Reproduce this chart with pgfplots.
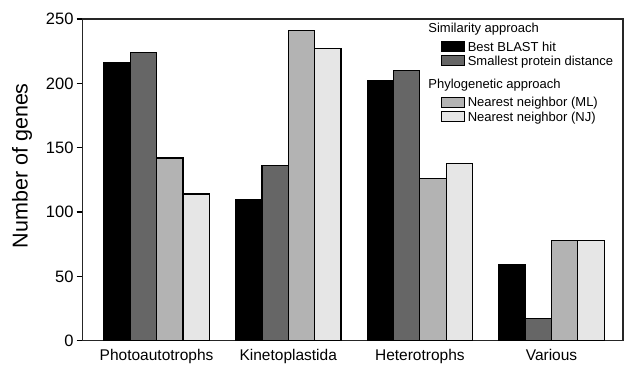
\documentclass[border=0pt]{standalone}
\usepackage{pgfplots}
\pgfplotsset{compat=1.18}
\usepackage{fontspec}
\setmainfont{Liberation Sans}
\definecolor{cA}{HTML}{000000}
\definecolor{cB}{HTML}{666666}
\definecolor{cC}{HTML}{B3B3B3}
\definecolor{cD}{HTML}{E6E6E6}
\begin{document}
\begin{tikzpicture}[x=1pt,y=1pt]
\useasboundingbox (0,0) rectangle (625,365);
\begin{axis}[
  at={(82.7pt,24.3pt)}, anchor=south west,
  scale only axis, width=540.3pt, height=321.7pt,
  ybar=0pt, bar width=0.2,
  xmin=-0.5615, xmax=3.543,
  ymin=0, ymax=250,
  ytick={0,50,100,150,200,250},
  xtick={0,1,2,3},
  xticklabels={Photoautotrophs,Kinetoplastida,Heterotrophs,Various},
  /pgf/number format/assume math mode=true,
  tick align=outside,
  ytick pos=left,
  xtick style={draw=none},
  major tick length=6pt,
  ytick style={line width=1.1pt, black},
  axis line style={line width=1.2pt, black!85},
  yticklabel style={font=\fontsize{16.5}{18}\selectfont, inner sep=3pt},
  xticklabel style={font=\fontsize{15.5}{17}\selectfont, inner sep=2pt},
  ylabel={Number of genes},
  ylabel style={font=\fontsize{21.5}{24}\selectfont, at={(axis description cs:-0.1123,0.544)}, anchor=center},
  every axis plot/.append style={draw=black, line width=1.2pt},
  legend image code/.code={\draw[#1, line width=0.9pt] (0pt,-5pt) rectangle (22.7pt,5pt);},
  legend style={at={(axis description cs:0.6626,0.9965)}, anchor=north west, draw=none, fill=none,
    font=\fontsize{13}{15}\selectfont, inner sep=0pt, row sep=0pt, column sep=3.3pt,
    nodes={inner sep=0pt, text height=11.85pt, text depth=2.55pt, anchor=west}},
  legend cell align=left,
]
\addlegendimage{empty legend}
\addlegendentry[text depth=7.15pt]{\hspace{-39.4pt}Similarity approach}
\addplot[fill=cA] coordinates {(0,216) (1,110) (2,202) (3,59)};
\addlegendentry{Best BLAST hit}
\addplot[fill=cB] coordinates {(0,224) (1,136) (2,210) (3,17)};
\addlegendentry{Smallest protein distance}
\addlegendimage{empty legend}
\addlegendentry[text height=20.45pt, text depth=6.55pt]{\hspace{-39.4pt}Phylogenetic approach}
\addplot[fill=cC] coordinates {(0,142) (1,241) (2,126) (3,78)};
\addlegendentry{Nearest neighbor (ML)}
\addplot[fill=cD] coordinates {(0,114) (1,227) (2,138) (3,78)};
\addlegendentry{Nearest neighbor (NJ)}
\end{axis}
\end{tikzpicture}
\end{document}
